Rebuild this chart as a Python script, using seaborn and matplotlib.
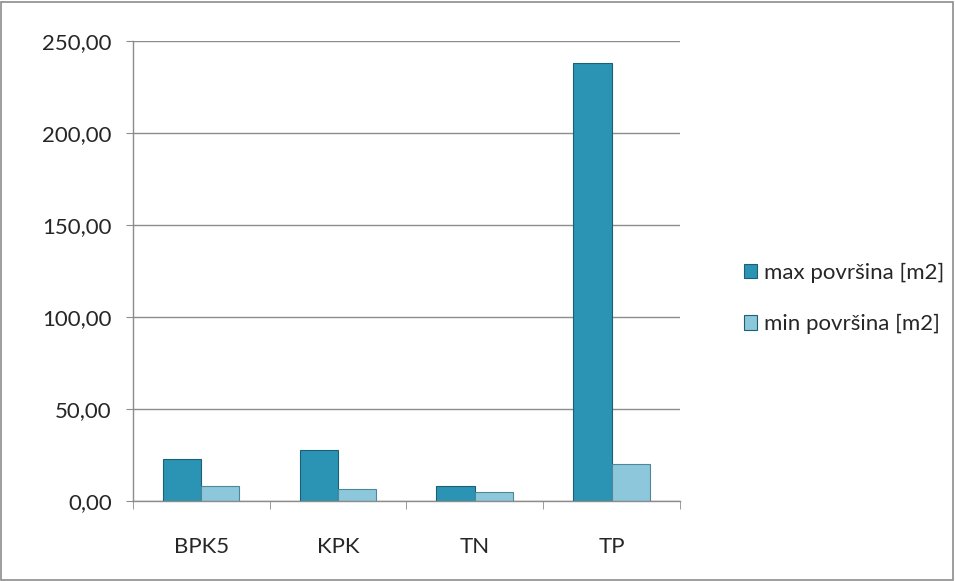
import matplotlib.pyplot as plt
import matplotlib.ticker as mticker
from matplotlib.patches import Rectangle
import seaborn as sns
import pandas as pd

categories = ["BPK5", "KPK", "TN", "TP"]
max_povrsina = [22.8, 27.7, 8.1, 237.9]
min_povrsina = [8.3, 6.6, 4.6, 20.2]
series_names = ["max površina [m2]", "min površina [m2]"]
colors = ["#2B93B3", "#8CC7DB"]

df = pd.DataFrame({
    "kategorija": categories * 2,
    "vrijednost": max_povrsina + min_povrsina,
    "serija": [series_names[0]] * 4 + [series_names[1]] * 4,
})

sns.set_style("white")
plt.rcParams["font.family"] = ["Lato", "DejaVu Sans"]

fig = plt.figure(figsize=(9.55, 5.81), dpi=100)
ax = fig.add_axes([0.139, 0.138, 0.573, 0.791])

sns.barplot(data=df, x="kategorija", y="vrijednost", hue="serija",
            palette=colors, saturation=1, width=0.56, ax=ax,
            edgecolor="#1d5f73", linewidth=0.8, legend=True)
for bar in ax.patches[4:8]:
    bar.set_edgecolor("#4f8799")

ax.set_ylim(0, 250)
ax.set_xlim(-0.5, 3.5)
ax.yaxis.set_major_locator(mticker.MultipleLocator(50))
ax.yaxis.set_major_formatter(mticker.FuncFormatter(lambda v, p: f"{v:.2f}".replace(".", ",")))
ax.grid(axis="y", color="#8c8c8c", linewidth=1)
ax.set_axisbelow(True)
ax.set_xlabel("")
ax.set_ylabel("")
for s in ["top", "right"]:
    ax.spines[s].set_visible(False)
for s in ["left", "bottom"]:
    ax.spines[s].set_color("#8c8c8c")
    ax.spines[s].set_linewidth(1)

ax.tick_params(axis="y", left=True, length=5, color="#8c8c8c", labelsize=16, pad=10)
ax.set_xticks([0, 1, 2, 3])
ax.set_xticks([-0.5, 0.5, 1.5, 2.5, 3.5], minor=True)
ax.tick_params(axis="x", which="major", length=0, labelsize=16, pad=26)
ax.tick_params(axis="x", which="minor", bottom=True, length=6, color="#8c8c8c")

leg = ax.legend(loc="center left", bbox_to_anchor=(1.08, 0.44), frameon=False,
                fontsize=16, handlelength=0.6, handleheight=0.6,
                handletextpad=0.3, labelspacing=1.4)

fig.patches.append(Rectangle((0.001, 0.002), 0.997, 0.995, transform=fig.transFigure,
                             fill=False, edgecolor="#8c8c8c", linewidth=1.2))

fig.savefig("out.png", dpi=100, facecolor="white")
